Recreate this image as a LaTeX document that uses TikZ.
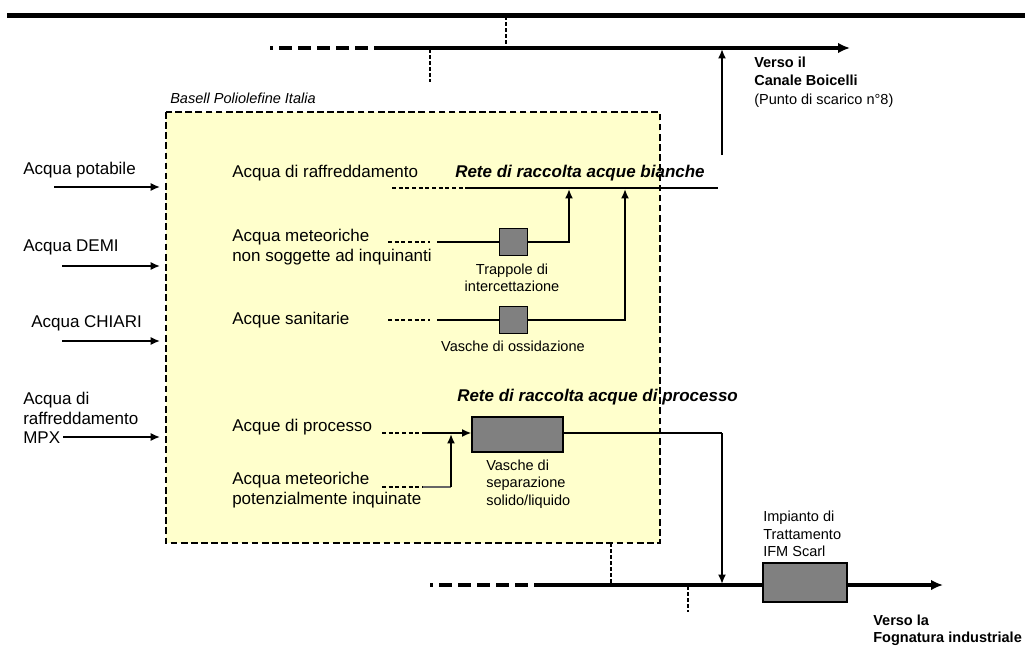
\documentclass[tikz,border=0pt]{standalone}
\usepackage{fontspec}
\setmainfont{Liberation Sans}
\usetikzlibrary{arrows.meta}
\definecolor{areayellow}{HTML}{FFFFCC}
\definecolor{tankgray}{HTML}{808080}
\newcommand{\normtxt}{\fontsize{12.75}{14.6}\selectfont}
\newcommand{\smalltxt}{\fontsize{10.9}{13}\selectfont}
\newcommand{\rete}[1]{\textbf{\textit{#1}}}

\begin{document}
\begin{tikzpicture}[x=0.75pt, y=-0.75pt,
		txt/.style={inner sep=0pt, anchor=west, align=left, font=\normtxt},
		sml/.style={inner sep=0pt, align=left, font=\smalltxt},
		area/.style={fill=areayellow, draw=black, line width=1.1pt, dash pattern=on 5pt off 2.6pt},
		tank/.style={draw=black, fill=tankgray, line width=0.8pt, inner sep=0pt},
		pipe/.style={line width=2.6pt},
		pipedash/.style={dash pattern=on 9.75pt off 4.5pt, dash phase=7.5pt},
		pipetip/.style={-{Latex[length=9pt, width=8pt]}},
		vdash/.style={line width=1.5pt, dash pattern=on 3pt off 1.5pt},
		dots/.style={line width=1.4pt, dash pattern=on 3pt off 2pt},
		thin/.style={line width=0.9pt},
		rise/.style={line width=1.5pt, -{Latex[length=7pt, width=6pt]}},
		feed/.style={line width=1.2pt, -{Latex[length=7pt, width=6pt]}}
	]
	\useasboundingbox (0,0) rectangle (1025,646);

	% stabilimento
	\draw [area] (166,112) rectangle (660,543);
	\node [sml, anchor=west, font=\smalltxt\itshape] (BPI) at (170,98) {Basell Poliolefine Italia};

	% collettori
	\coordinate (T0) at (7,15);
	\coordinate (T1) at (1025,15);
	\draw [line width=3.75pt] (T0) -- (T1);

	\coordinate (U0) at (270,48);
	\coordinate (U1) at (387,48);
	\coordinate (U2) at (850,48);
	\draw [pipe, pipedash] (U0) -- (U1);
	\draw [pipe, pipetip] (U1) -- (U2);
	\coordinate (UA) at (506,16);
	\coordinate (UB) at (506,47);
	\draw [vdash] (UA) -- (UB);
	\coordinate (UC) at (430,49);
	\coordinate (UD) at (430,82);
	\draw [vdash] (UC) -- (UD);
	\coordinate (UE) at (722,155);
	\coordinate (UF) at (722,49);
	\draw [rise] (UE) -- (UF);
	\node [sml, anchor=west, font=\fontsize{10.9}{13.9}\selectfont] (BOI) at (754,82)
		{\textbf{Verso il}\\\textbf{Canale Boicelli}\\(Punto di scarico n°8)};

	% ingressi
	\node [txt] (PT) at (23,170) {Acqua potabile};
	\node [txt] (DM) at (23,247) {Acqua DEMI};
	\node [txt] (CH) at (31,323) {Acqua CHIARI};
	\node [txt] (MP) at (23,418) {Acqua di\\raffreddamento\\MPX};
	\coordinate (P0) at (54,187);
	\coordinate (P1) at (160,187);
	\coordinate (D0) at (62,266);
	\coordinate (D1) at (160,266);
	\coordinate (C0) at (62,341);
	\coordinate (C1) at (160,341);
	\coordinate (M0) at (63,437);
	\coordinate (M1) at (160,437);
	\draw [feed] (P0) -- (P1);
	\draw [feed] (D0) -- (D1);
	\draw [feed] (C0) -- (C1);
	\draw [feed] (M0) -- (M1);

	% acque bianche
	\node [txt] (RAF) at (232,173) {Acqua di raffreddamento};
	\node [txt, font=\normtxt\bfseries\itshape] (RB) at (455,173) {Rete di raccolta acque bianche};
	\coordinate (A0) at (392,188);
	\coordinate (A1) at (467,188);
	\coordinate (A2) at (718,188);
	\draw [dots] (A0) -- (A1);
	\draw [thin] (A1) -- (A2);

	\node [txt] (MET) at (232,247) {Acqua meteoriche\\non soggette ad inquinanti};
	\node [tank, minimum width=21pt, minimum height=20.25pt] (TRP) at (513.5,242) {};
	\node [sml, align=center] (TRL) at (512,278) {Trappole di\\intercettazione};
	\coordinate (B0) at (388,242);
	\coordinate (B1) at (430,242);
	\coordinate (B2) at (437,242);
	\coordinate (B3) at (569,189);
	\draw [dots] (B0) -- (B1);
	\draw [thin] (B2) -- (TRP.west);
	\draw [rise] (TRP.east) -| (B3);

	\node [txt] (SAN) at (232,320) {Acque sanitarie};
	\node [tank, minimum width=21pt, minimum height=20.25pt] (OSS) at (513.5,320) {};
	\node [sml] (OSL) at (513,346) {Vasche di ossidazione};
	\coordinate (E0) at (388,320);
	\coordinate (E1) at (430,320);
	\coordinate (E2) at (437,320);
	\coordinate (E3) at (625,189);
	\draw [dots] (E0) -- (E1);
	\draw [thin] (E2) -- (OSS.west);
	\draw [rise] (OSS.east) -| (E3);

	% acque di processo
	\node [txt, font=\normtxt\bfseries\itshape] (RP) at (457,397) {Rete di raccolta acque di processo};
	\node [txt] (PRO) at (232,427) {Acque di processo};
	\node [tank, minimum width=68.25pt, minimum height=26.25pt] (SEP) at (517.5,434.5) {};
	\node [sml, anchor=west] (SEL) at (486,484) {Vasche di\\separazione\\solido/liquido};
	\coordinate (F0) at (382,433);
	\coordinate (F1) at (423,433);
	\draw [dots] (F0) -- (F1);
	\draw [rise] (F1) -- (F1 -| SEP.west);

	\node [txt] (POT) at (232,490) {Acqua meteoriche\\potenzialmente inquinate};
	\coordinate (G0) at (382,487);
	\coordinate (G1) at (423,487);
	\coordinate (G2) at (451,487);
	\coordinate (G3) at (451,434);
	\draw [dots] (G0) -- (G1);
	\draw [thin, black!60] (G1) -- (G2);
	\draw [rise] (G2) -- (G3);

	\coordinate (S0) at (722,433);
	\coordinate (S1) at (722,584);
	\draw [thin] (S0 -| SEP.east) -- (S0);
	\draw [rise] (S0) -- (S1);

	% fognatura
	\coordinate (L0) at (430,585);
	\coordinate (L1) at (540,585);
	\coordinate (L2) at (943,585);
	\draw [pipe, pipedash] (L0) -- (L1);
	\draw [pipe, pipetip] (L1) -- (L2);
	\coordinate (V0) at (611,543);
	\coordinate (V1) at (611,584);
	\coordinate (V2) at (688,586);
	\coordinate (V3) at (688,612);
	\draw [vdash] (V0) -- (V1);
	\draw [vdash] (V2) -- (V3);
	\node [tank, minimum width=63pt, minimum height=29.25pt] (IFM) at (805,582.5) {};
	\node [sml, anchor=west] (IFL) at (763,534) {Impianto di\\Trattamento\\IFM Scarl};
	\node [sml, anchor=west, font=\smalltxt\bfseries] (FOG) at (873,630) {Verso la\\Fognatura industriale};
\end{tikzpicture}
\end{document}
